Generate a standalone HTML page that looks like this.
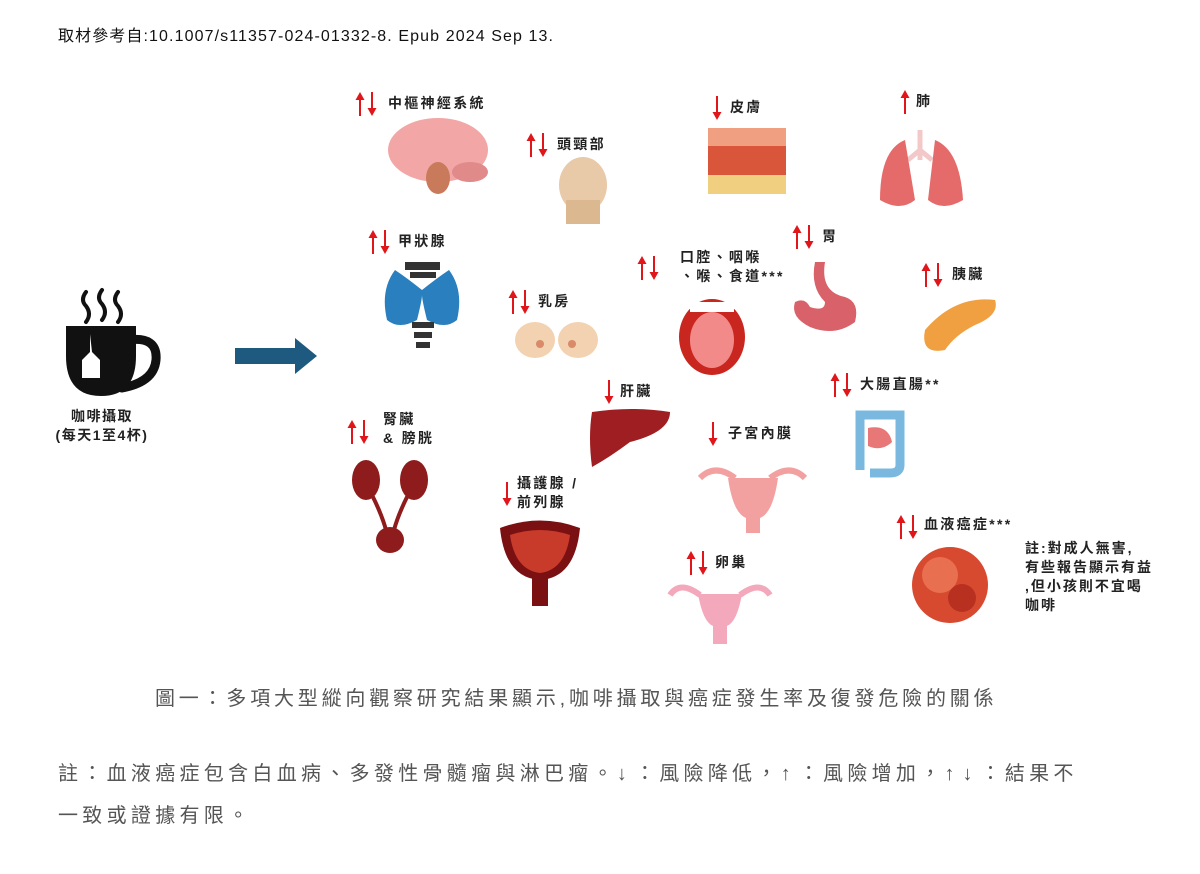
<!DOCTYPE html>
<html><head><meta charset="utf-8"><style>
html,body{margin:0;padding:0;background:#fff}
body{width:1200px;height:874px;position:relative;overflow:hidden;font-family:"Liberation Sans","Noto Sans CJK TC",sans-serif}
.t{position:absolute;white-space:nowrap}
.l{position:absolute;font-weight:bold;font-size:14px;color:#222;line-height:19px;white-space:nowrap;letter-spacing:2.3px}
</style></head><body>
<div class="t" style="left:58px;top:22px;font-size:16px;color:#111;letter-spacing:1.1px">取材參考自:10.1007/s11357-024-01332-8. Epub 2024 Sep 13.</div>

<svg width="1200" height="874" style="position:absolute;left:0;top:0">
<defs>
<g id="up"><path d="M0 24 V4" stroke="#e0161b" stroke-width="2"/><polygon points="-4.5,8 0,0 4.5,8" fill="#e0161b"/></g>
<g id="dn"><path d="M0 0 V20" stroke="#e0161b" stroke-width="2"/><polygon points="-4.5,16 0,24 4.5,16" fill="#e0161b"/></g>
</defs>
<use href="#up" x="360" y="92"/><use href="#dn" x="372" y="92"/>
<use href="#up" x="531" y="133"/><use href="#dn" x="543" y="133"/>
<use href="#dn" x="717" y="96"/>
<use href="#up" x="905" y="90"/>
<use href="#up" x="373" y="230"/><use href="#dn" x="385" y="230"/>
<use href="#up" x="513" y="290"/><use href="#dn" x="525" y="290"/>
<use href="#up" x="642" y="256"/><use href="#dn" x="654" y="256"/>
<use href="#up" x="797" y="225"/><use href="#dn" x="809" y="225"/>
<use href="#up" x="926" y="263"/><use href="#dn" x="938" y="263"/>
<use href="#dn" x="609" y="380"/>
<use href="#up" x="835" y="373"/><use href="#dn" x="847" y="373"/>
<use href="#up" x="352" y="420"/><use href="#dn" x="364" y="420"/>
<use href="#dn" x="713" y="422"/>
<use href="#dn" x="507" y="482"/>
<use href="#up" x="901" y="515"/><use href="#dn" x="913" y="515"/>
<use href="#up" x="691" y="551"/><use href="#dn" x="703" y="551"/>
<g stroke="#111" stroke-width="4" fill="none" stroke-linecap="round">
<path d="M86 292 q-6 8 0 14 q6 8 0 16"/><path d="M102 290 q-6 8 0 14 q6 8 0 16"/><path d="M118 292 q-6 8 0 14 q6 8 0 16"/>
<path d="M128 340 q30 -4 28 20 q-2 22 -34 28" stroke-width="9"/>
</g>
<path d="M66 326 h70 v30 q0 40 -35 40 q-35 0 -35 -40z" fill="#111"/>
<path d="M90 334 v18 l-8 8 v18 h18 v-18 l-8 -8" fill="#fff"/>
<path d="M235 348 h60 v-10 l22 18 l-22 18 v-10 h-60z" fill="#1e5a80"/>
<ellipse cx="438" cy="150" rx="50" ry="32" fill="#f2a6a6"/><ellipse cx="438" cy="178" rx="12" ry="16" fill="#c97a5a"/><ellipse cx="470" cy="172" rx="18" ry="10" fill="#e08a8a"/>
<ellipse cx="583" cy="185" rx="24" ry="28" fill="#e8c9a8"/><rect x="566" y="200" width="34" height="24" fill="#dcb890"/>
<rect x="708" y="128" width="78" height="66" fill="#d9563a"/><rect x="708" y="128" width="78" height="18" fill="#f0a080"/><rect x="708" y="175" width="78" height="19" fill="#f0d080"/>
<path d="M920 130 v30 M920 150 l-12 10 M920 150 l12 10" stroke="#f3c8c8" stroke-width="5"/>
<path d="M905 140 q-25 10 -25 60 q20 12 35 0 z" fill="#e56a6a"/><path d="M935 140 q25 10 28 60 q-20 12 -35 0 z" fill="#e56a6a"/>
<path d="M405 262 h35 v8 h-35z M410 272 h26 v6 h-26z" fill="#333"/>
<path d="M395 270 q-15 20 -8 50 q12 10 30 0 q5 -20 5 -25 q0 5 5 25 q18 10 30 0 q7 -30 -8 -50 q-12 8 -27 20 q-15 -12 -27 -20z" fill="#2a7fbf"/>
<path d="M412 322 h22 v6 h-22z M414 332 h18 v6 h-18z M416 342 h14 v6 h-14z" fill="#333"/>
<ellipse cx="535" cy="340" rx="20" ry="18" fill="#f2d2b0"/><ellipse cx="578" cy="340" rx="20" ry="18" fill="#f2d2b0"/>
<circle cx="540" cy="344" r="4" fill="#d88a6a"/><circle cx="572" cy="344" r="4" fill="#d88a6a"/>
<ellipse cx="712" cy="337" rx="33" ry="38" fill="#c8261e"/><ellipse cx="712" cy="340" rx="22" ry="28" fill="#f28a8a"/><rect x="690" y="302" width="44" height="10" fill="#fff"/>
<path d="M825 262 q-5 30 20 35 q15 5 10 25 q-20 15 -45 5 q-20 -10 -15 -25 q10 -5 15 5 q15 5 15 -5 q-15 -15 -10 -40z" fill="#d9616a"/>
<path d="M925 330 q30 -35 70 -30 q5 15 -20 25 q-20 10 -30 25 q-25 5 -20 -20z" fill="#f0a040"/>
<path d="M592 412 q40 -6 78 0 q0 20 -40 30 q-20 15 -38 25 q-4 -30 0 -55z" fill="#9e1e22"/>
<path d="M860 470 v-55 h40 v50 q0 8 -10 8 h-20" fill="none" stroke="#7ab8e0" stroke-width="9"/><path d="M868 428 q20 -4 24 14 q-10 10 -24 4" fill="#e87878"/>
<ellipse cx="366" cy="480" rx="14" ry="20" fill="#8e1c1c"/><ellipse cx="414" cy="480" rx="14" ry="20" fill="#8e1c1c"/>
<path d="M372 495 q10 20 14 35 M408 495 q-10 20 -14 35" stroke="#8e1c1c" stroke-width="4" fill="none"/><ellipse cx="390" cy="540" rx="14" ry="13" fill="#8e1c1c"/>
<path d="M735 478 q-20 -15 -35 0 M770 478 q20 -15 35 0" stroke="#f2a0a0" stroke-width="6" fill="none"/>
<path d="M728 478 h50 q-5 35 -18 40 v15 h-14 v-15 q-13 -5 -18 -40z" fill="#f2a0a0"/>
<path d="M500 528 q40 -15 80 0 q-5 50 -40 52 q-35 -2 -40 -52z" fill="#7a1012"/><path d="M510 535 q30 -10 60 0 q-5 35 -30 38 q-25 -3 -30 -38z" fill="#c83a2a"/><rect x="532" y="578" width="16" height="28" fill="#7a1012"/>
<path d="M700 595 q-20 -15 -30 0 M740 595 q20 -15 30 0" stroke="#f4a8bc" stroke-width="6" fill="none"/>
<path d="M698 594 h44 q-5 28 -15 32 v18 h-14 v-18 q-10 -4 -15 -32z" fill="#f4a8bc"/>
<circle cx="950" cy="585" r="38" fill="#d84a30"/><circle cx="940" cy="575" r="18" fill="#e87050"/><circle cx="962" cy="598" r="14" fill="#b83020"/>
</svg>

<div class="l" style="left:52px;top:407px;text-align:center;width:100px;letter-spacing:1.5px">咖啡攝取<br>(每天1至4杯)</div>

<div class="l" style="left:388px;top:94px">中樞神經系統</div>
<div class="l" style="left:557px;top:135px">頭頸部</div>
<div class="l" style="left:730px;top:98px">皮膚</div>
<div class="l" style="left:916px;top:92px">肺</div>
<div class="l" style="left:398px;top:232px">甲狀腺</div>
<div class="l" style="left:538px;top:292px">乳房</div>
<div class="l" style="left:680px;top:248px">口腔、咽喉<br>、喉、食道***</div>
<div class="l" style="left:822px;top:227px">胃</div>
<div class="l" style="left:952px;top:265px">胰臟</div>
<div class="l" style="left:620px;top:382px">肝臟</div>
<div class="l" style="left:860px;top:375px">大腸直腸**</div>
<div class="l" style="left:383px;top:410px">腎臟<br>&amp; 膀胱</div>
<div class="l" style="left:728px;top:424px">子宮內膜</div>
<div class="l" style="left:517px;top:474px">攝護腺 /<br>前列腺</div>
<div class="l" style="left:924px;top:515px">血液癌症***</div>
<div class="l" style="left:715px;top:553px">卵巢</div>
<div class="l" style="left:1025px;top:539px;letter-spacing:2px">註:對成人無害,<br>有些報告顯示有益<br>,但小孩則不宜喝<br>咖啡</div>

<div class="t" style="left:155px;top:682px;font-size:20px;color:#555;letter-spacing:3.8px">圖一：多項大型縱向觀察研究結果顯示,咖啡攝取與癌症發生率及復發危險的關係</div>
<div class="t" style="left:58px;top:757px;font-size:20px;color:#555;letter-spacing:4.3px">註：血液癌症包含白血病、多發性骨髓瘤與淋巴瘤。<span style="letter-spacing:8px">↓</span>：風險降低，<span style="letter-spacing:8px">↑</span>：風險增加，<span style="letter-spacing:8px">↑↓</span>：結果不</div>
<div class="t" style="left:58px;top:799px;font-size:20px;color:#555;letter-spacing:4.3px">一致或證據有限。</div>
</body></html>
